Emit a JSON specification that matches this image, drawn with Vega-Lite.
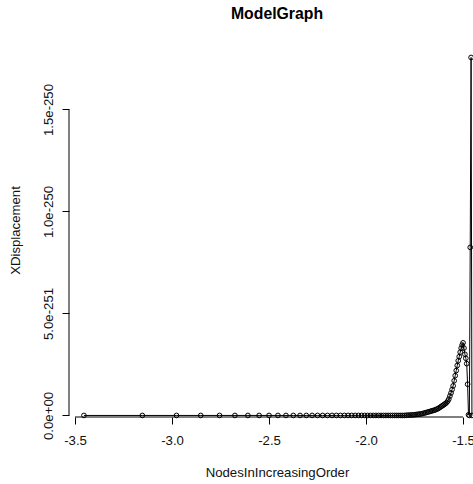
{
  "$schema": "https://vega.github.io/schema/vega-lite/v6.json",
  "width": 404,
  "height": 374,
  "autosize": "none",
  "padding": {"left": 69, "top": 43, "right": 0, "bottom": 67},
  "background": "white",
  "config": {"view": {"stroke": null}},
  "title": {"text": "ModelGraph", "font": "Liberation Sans", "fontSize": 15.8, "fontWeight": "bold", "color": "#000", "anchor": "middle", "frame": "group", "dx": 6, "baseline": "alphabetic", "offset": 8},
  "data": {"values": [
    {"order": -3.454, "disp": 0},
    {"order": -3.153, "disp": 0},
    {"order": -2.9769, "disp": 0},
    {"order": -2.8519, "disp": 0},
    {"order": -2.755, "disp": 0},
    {"order": -2.6758, "disp": 0},
    {"order": -2.6089, "disp": 0},
    {"order": -2.5509, "disp": 0},
    {"order": -2.4998, "disp": 0},
    {"order": -2.454, "disp": 0},
    {"order": -2.4126, "disp": 0},
    {"order": -2.3748, "disp": 0},
    {"order": -2.3401, "disp": 0},
    {"order": -2.3079, "disp": 0},
    {"order": -2.2779, "disp": 0},
    {"order": -2.2499, "disp": 0},
    {"order": -2.2236, "disp": 0},
    {"order": -2.1987, "disp": 0},
    {"order": -2.1752, "disp": 0},
    {"order": -2.153, "disp": 0},
    {"order": -2.1318, "disp": 0},
    {"order": -2.1116, "disp": 0},
    {"order": -2.0923, "disp": 0},
    {"order": -2.0738, "disp": 0},
    {"order": -2.0561, "disp": 0},
    {"order": -2.039, "disp": 0},
    {"order": -2.0226, "disp": 0},
    {"order": -2.0068, "disp": 0},
    {"order": -1.9916, "disp": 0},
    {"order": -1.9769, "disp": 0},
    {"order": -1.9626, "disp": 0},
    {"order": -1.9489, "disp": 0},
    {"order": -1.9355, "disp": 0},
    {"order": -1.9225, "disp": 0},
    {"order": -1.9099, "disp": 0},
    {"order": -1.8977, "disp": 0},
    {"order": -1.8858, "disp": 0},
    {"order": -1.8742, "disp": 0},
    {"order": -1.8629, "disp": 0},
    {"order": -1.8519, "disp": 0},
    {"order": -1.8412, "disp": 0},
    {"order": -1.8308, "disp": 0},
    {"order": -1.8205, "disp": 0},
    {"order": -1.8105, "disp": 0},
    {"order": -1.8008, "disp": 0},
    {"order": -1.7912, "disp": 0.01e-251},
    {"order": -1.7819, "disp": 0.015e-251},
    {"order": -1.7728, "disp": 0.02e-251},
    {"order": -1.7638, "disp": 0.025e-251},
    {"order": -1.755, "disp": 0.03e-251},
    {"order": -1.7464, "disp": 0.04e-251},
    {"order": -1.738, "disp": 0.05e-251},
    {"order": -1.7297, "disp": 0.06e-251},
    {"order": -1.7216, "disp": 0.07e-251},
    {"order": -1.7136, "disp": 0.08e-251},
    {"order": -1.7058, "disp": 0.10e-251},
    {"order": -1.6981, "disp": 0.12e-251},
    {"order": -1.6906, "disp": 0.14e-251},
    {"order": -1.6831, "disp": 0.16e-251},
    {"order": -1.6758, "disp": 0.18e-251},
    {"order": -1.6687, "disp": 0.20e-251},
    {"order": -1.6616, "disp": 0.22e-251},
    {"order": -1.6547, "disp": 0.24e-251},
    {"order": -1.6478, "disp": 0.26e-251},
    {"order": -1.6411, "disp": 0.28e-251},
    {"order": -1.6345, "disp": 0.31e-251},
    {"order": -1.6279, "disp": 0.34e-251},
    {"order": -1.6215, "disp": 0.38e-251},
    {"order": -1.6152, "disp": 0.42e-251},
    {"order": -1.6089, "disp": 0.46e-251},
    {"order": -1.6027, "disp": 0.50e-251},
    {"order": -1.5967, "disp": 0.54e-251},
    {"order": -1.5907, "disp": 0.58e-251},
    {"order": -1.5848, "disp": 0.63e-251},
    {"order": -1.5789, "disp": 0.70e-251},
    {"order": -1.5732, "disp": 0.80e-251},
    {"order": -1.5675, "disp": 0.95e-251},
    {"order": -1.5619, "disp": 1.10e-251},
    {"order": -1.5564, "disp": 1.27e-251},
    {"order": -1.5509, "disp": 1.45e-251},
    {"order": -1.5455, "disp": 1.70e-251},
    {"order": -1.5402, "disp": 1.95e-251},
    {"order": -1.5349, "disp": 2.20e-251},
    {"order": -1.5297, "disp": 2.45e-251},
    {"order": -1.5246, "disp": 2.68e-251},
    {"order": -1.5195, "disp": 2.88e-251},
    {"order": -1.5145, "disp": 3.10e-251},
    {"order": -1.5095, "disp": 3.30e-251},
    {"order": -1.5046, "disp": 3.45e-251},
    {"order": -1.4998, "disp": 3.56e-251},
    {"order": -1.495, "disp": 3.30e-251},
    {"order": -1.4902, "disp": 3.00e-251},
    {"order": -1.4855, "disp": 2.80e-251},
    {"order": -1.4809, "disp": 2.54e-251},
    {"order": -1.4763, "disp": 1.53e-251},
    {"order": -1.4717, "disp": 0.03e-251},
    {"order": -1.4672, "disp": 0},
    {"order": -1.4628, "disp": 8.24e-251},
    {"order": -1.4584, "disp": 17.55e-251},
    {"order": -1.454, "disp": 0}
  ]},
  "layer": [
    {
      "mark": {"type": "line", "color": "#000", "strokeWidth": 1},
      "encoding": {
        "x": {"field": "order", "type": "quantitative", "sort": null,
          "scale": {"domain": [-3.531, -1.4485], "nice": false, "zero": false},
          "axis": {"title": "NodesInIncreasingOrder", "values": [-3.5, -3, -2.5, -2, -1.5], "format": ".1f",
            "labelExpr": "replace(datum.label, '\u2212', '-')",
            "domain": false, "grid": false, "tickSize": 7, "tickColor": "#000", "tickWidth": 1,
            "labelFont": "Liberation Sans", "labelFontSize": 13.2, "labelColor": "#111",
            "labelBaseline": "middle", "labelPadding": 16, "labelFlush": false, "labelOverlap": false,
            "titleFont": "Liberation Sans", "titleFontSize": 13.2, "titleFontWeight": "normal", "titleColor": "#111",
            "titleX": 208, "titleY": 55, "titleBaseline": "middle", "titleAlign": "center"}},
        "y": {"field": "disp", "type": "quantitative",
          "scale": {"domain": [-7.63e-253, 1.826e-250], "nice": false, "zero": false},
          "axis": {"title": "XDisplacement", "values": [0, 5e-251, 1e-250, 1.5e-250], "format": ".1e",
            "labelExpr": "datum.value == 0 ? '0.0e+00' : replace(datum.label, '\u2212', '-')",
            "domain": false, "grid": false, "tickSize": 7, "tickColor": "#000", "tickWidth": 1,
            "labelFont": "Liberation Sans", "labelFontSize": 13.2, "labelColor": "#111",
            "labelAngle": -90, "labelAlign": "center", "labelBaseline": "middle", "labelPadding": 14,
            "labelFlush": false, "labelOverlap": false,
            "titleFont": "Liberation Sans", "titleFontSize": 13.2, "titleFontWeight": "normal", "titleColor": "#111",
            "titleX": -54, "titleY": 187, "titleAngle": -90, "titleBaseline": "middle", "titleAlign": "center"}}
      }
    },
    {
      "mark": {"type": "point", "shape": "circle", "filled": false, "stroke": "#000", "strokeWidth": 1, "size": 22, "opacity": 1},
      "encoding": {
        "x": {"field": "order", "type": "quantitative"},
        "y": {"field": "disp", "type": "quantitative"}
      }
    },
    {
      "data": {"values": [{}]},
      "mark": {"type": "rule", "color": "#000", "strokeWidth": 1},
      "encoding": {
        "x": {"datum": -3.5, "type": "quantitative"},
        "x2": {"datum": -1.5},
        "y": {"value": "height"}
      }
    },
    {
      "data": {"values": [{}]},
      "mark": {"type": "rule", "color": "#000", "strokeWidth": 1},
      "encoding": {
        "y": {"datum": 0, "type": "quantitative"},
        "y2": {"datum": 1.5e-250},
        "x": {"value": 0}
      }
    }
  ]
}
